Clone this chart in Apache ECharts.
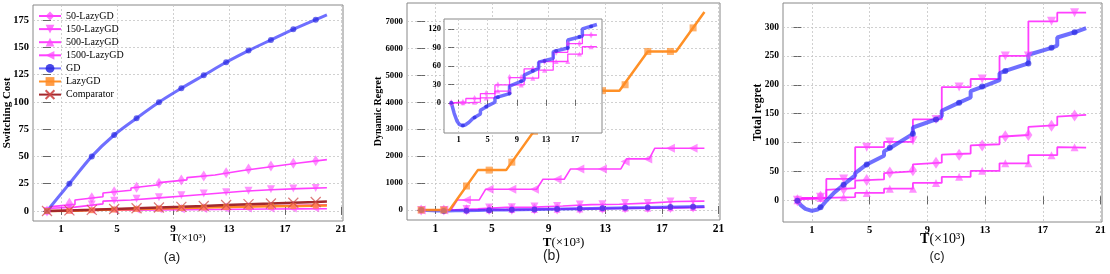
<!DOCTYPE html>
<html><head><meta charset="utf-8">
<script src="https://cdn.jsdelivr.net/npm/echarts@6/dist/echarts.min.js"></script>
<style>html,body{margin:0;padding:0;background:#fff}#c{width:1110px;height:274px}</style>
</head><body><div id="c"></div>
<script>
// ---------- data ----------
const markT = [0,1.6,3.2,4.8,6.4,8.0,9.6,11.2,12.8,14.4,16.0,17.6,19.2];

// (a) switching cost
const aGD_T = [0,0.8,1.6,3.2,4.8,6.4,8.0,9.6,11.2,12.8,14.4,16.0,17.6,19.2,20];
const aGD_V = [0,12.5,25,50,69.6,85,99.6,112.4,124.3,136.2,146.9,156.7,166.4,175.3,179.6];
const aGD_M = [0,25,50,69.6,85,99.6,112.4,124.3,136.2,146.9,156.7,166.4,175.3];
const aStep_T = [0,0.3,2,2,4,4,6,6,8,8,10,10,12,12,14,14,16,16,18,18,20];
const a50_V = [0,4,6,10,13,16.5,19,21,24,26,28.5,30.5,33,34.5,37,38.5,40.5,42,44,45.5,47];
const a50_M = [0,7,12.2,17.7,21.7,25.4,28.4,32.1,35.1,38.5,41.2,43.7,46.1];
const a150_V = [0,2.5,3.5,5,6.5,9,10,11,12,13,14,15,16,17,18,18.5,19.5,20,20.5,21,21.2];
const a150_M = [0,3,5.9,9.4,11.2,12.5,14.3,16.1,17.2,18.6,19.8,20.6,21.1];
const aEven_T = [0,2,4,6,8,10,12,14,16,18,20];
const a500_V = [0,0.8,1.6,2.2,2.8,3.3,3.8,4.3,4.8,5.2,5.6];
const a500_M = [0,0.7,1.3,2,2.6,3.0,3.5,4.1,4.5,4.9,5.0,5.3,5.5];
const a1500_V = [0,0.3,0.6,0.8,1.0,1.2,1.4,1.6,1.8,1.9,2.0];
const a1500_M = [0,0.2,0.5,0.7,0.9,1.0,1.2,1.4,1.6,1.7,1.8,1.9,2.0];
const aLazy_V = [0,0.3,1,1.6,2.2,2.8,3.3,3.8,4.2,4.6,4.9];
const aLazy_M = [0,0.2,0.7,1.3,1.9,2.2,2.7,3.2,3.6,4.0,4.2,4.5,4.8];
const aComp_T = [0,1.6,3.2,4.8,6.4,8,9.6,11.2,12.8,14.4,16,17.6,19.2,20];
const aComp_V = [0,0.5,1.0,1.8,2.5,3.2,3.8,4.5,5.5,6.2,6.8,7.5,8.2,8.6];
const aComp_M = [0,0.5,1.0,1.8,2.5,3.2,3.8,4.5,5.5,6.2,6.8,7.5,8.2];

// (b) dynamic regret
const bLazy_T = [0,2,4,6,10,14,16,18,20];
const bLazy_V = [0,0,1480,1480,4430,4430,5885,5885,7350];
const bLazy_M = [0,0,890,1480,1775,2920,4100,4430,4430,4650,5885,5885,6760];
const b1500_T = [0,2.1,2.55,4.1,4.55,8.15,8.6,10.1,10.55,14.1,14.5,16.1,16.5,20];
const b1500_V = [0,0,372,372,768,768,1140,1140,1524,1524,1896,1896,2292,2292];
const b1500_M = [0,0,372,768,768,768,1140,1524,1524,1800,1896,2292,2292];
const bStep_T = [0,2,2,4,4,6,6,8,8,10,10,12,12,14,14,16,16,18,18,20];
const b150_V = [0,0,40,40,95,95,105,105,145,145,200,200,215,215,255,255,315,315,330,330];
const b150_M = [0,0,40,95,105,125,145,200,215,255,255,315,330];
const bGD_T = [0,0.4,0.8,1.1,1.5,1.9,2.4,3.0,4.0,4.0,5.0,6.0,6.0,8.0,8.0,10,10,12,12,14,14,16,16,18,18,20];
const bGD_V = [0,-17,-30,-35,-37,-36,-32,-25,-18,-12,-5,1,8,15,27,37,45,56,66,72,83,89,102,108,120,127];
const bGD_M = [0,-37,-24,-6,9,15,35,52,68,84,89,107,124];
const b50_T = [0,0.3,1.2,2,2,4,4,6,6,8,8,10,10,12,12,14,14,16,16,18,18,20];
const b50_V = [0,0,1,1,7,7,15,15,29,29,41,41,55,55,67,67,82,82,96,96,110,110];
const b50_M = [0,1,7,15,29,41,41,55,67,82,96,96,110];
const b500_V = [0,0,1,1,8,8,19,19,29,29,40,40,53,53,67,67,79,79,91,91];
const b500_M = [0,0,1,8,19,19,29,40,53,67,67,79,91];

// (c) total regret
const cStep_T = [0,0.3,2,2,4,4,6,6,8,8,10,10,12,12,14,14,16,16,18,18,20];
const c150_V = [0,3,4,37,37,92,92,101,101,140,140,196,196,210,210,250,250,310,310,325,325];
const c150_M = [0,5,37,92,101,103,140,196,210,250,250,310,325];
const c50_V = [0,2,3,18,21,34,36,47,50,62,65,79,81,95,97,110,113,127,130,145,148];
const c50_M = [0,6,20,35,48,52,65,79,95,111,113,129,147];
const c500_T = [0,0.3,2,4,4,6,6,8,8,10,10,12,12,14,14,16,16,18,18,20];
const c500_V = [0,4,4,5.5,12.7,12.7,20,20,30,30,40.5,40.5,51,51,64,64,78,78,92,91];
const c500_M = [0,4,5,12.7,20,20,30,40.5,51,64,64,78,92];
const cGD_T = [0,0.25,0.55,1.0,1.4,1.7,2.0,2.5,3.2,4.0,4.0,4.8,6.0,6.0,6.45,8.0,8.0,9.6,10,10,11.2,12,12,12.85,14,14,14.4,16,16,17.6,18,18,19.2,20];
const cGD_V = [-1,-9,-15,-18.5,-16,-10,-1,12,27,43,47,62,77,85,91,115,126,140,146,155,169,178,189,197,208,220,224,237,252,264,268,282,291,298];
const cGD_M = [-1,-12,27,62,91,115,140,169,197,224,237,264,291];

// tick labels
const xTicks = [1,5,9,13,17,21];
const insetXTicks = [1,5,9,13,17];
const aYTicks = [0,25,50,75,100,125,150,175];
const bYTicks = [0,1000,2000,3000,4000,5000,6000,7000];
const cYTicks = [0,50,100,150,200,250,300];
const insetYTicks = [0,30,60,90,120];
const legendNames = ['50-LazyGD','150-LazyGD','500-LazyGD','1500-LazyGD','GD','LazyGD','Comparator'];

// ---------- styles ----------
const SERIF = '"Liberation Serif","Times New Roman",serif';
const SANS = '"Liberation Sans",Arial,sans-serif';
const DIAMOND = 'path://M5,0L9,9L5,18L1,9Z';
const XPATH = 'path://M0,0L10,10M10,0L0,10';
const MAG_L = 'rgba(255,30,255,0.85)', MAG_M = 'rgba(255,70,255,0.75)';
const ST = {
  '50-LazyGD':  {sym: DIAMOND, rot: 0, lc: MAG_L, mc: MAG_M},
  '150-LazyGD': {sym: 'triangle', rot: 180, lc: MAG_L, mc: MAG_M},
  '500-LazyGD': {sym: 'triangle', rot: 0, lc: MAG_L, mc: MAG_M},
  '1500-LazyGD':{sym: 'triangle', rot: 90, lc: MAG_L, mc: MAG_M},
  'GD':         {sym: 'circle', rot: 0, lc: 'rgba(55,55,255,0.72)', mc: 'rgba(40,40,225,0.85)'},
  'LazyGD':     {sym: 'rect', rot: 0, lc: 'rgba(255,135,20,0.92)', mc: 'rgba(255,140,40,0.85)'},
  'Comparator': {sym: XPATH, rot: 0, lc: '#a3282c', mc: 'rgba(0,0,0,0)', stroke: 'rgba(205,70,70,0.9)'}
};

const series = [];
function addPair(name, gi, T, V, M, lw, ms, z, smooth) {
  const s = ST[name];
  const iStyle = s.stroke ? {color: s.mc, borderColor: s.stroke, borderWidth: 1.2} : {color: s.mc};
  series.push({
    type: 'line', name, xAxisIndex: 2*gi, yAxisIndex: 2*gi,
    data: T.map((t, i) => [t, V[i]]),
    showSymbol: false, symbol: s.sym, symbolRotate: s.rot,
    smooth: smooth || false,
    lineStyle: {color: s.lc, width: lw}, itemStyle: iStyle,
    z: z, animation: false, silent: true
  });
  series.push({
    type: 'scatter', name, xAxisIndex: 2*gi, yAxisIndex: 2*gi,
    data: markT.map((t, i) => [t, M[i]]),
    symbol: s.sym, symbolRotate: s.rot, symbolSize: ms,
    itemStyle: iStyle, z: z + 1, animation: false, silent: true
  });
}

// (a)
addPair('50-LazyGD', 0, aStep_T, a50_V, a50_M, 1.6, [7,11], 3);
addPair('150-LazyGD', 0, aStep_T, a150_V, a150_M, 1.6, 8, 3);
addPair('500-LazyGD', 0, aEven_T, a500_V, a500_M, 1.6, 7, 3);
addPair('1500-LazyGD', 0, aEven_T, a1500_V, a1500_M, 1.6, 7, 3);
addPair('GD', 0, aGD_T, aGD_V, aGD_M, 3, 6, 3, 0.3);
addPair('LazyGD', 0, aEven_T, aLazy_V, aLazy_M, 2.5, 6, 3);
addPair('Comparator', 0, aComp_T, aComp_V, aComp_M, 2.5, 10, 4);
// (b) main
addPair('1500-LazyGD', 1, b1500_T, b1500_V, b1500_M, 1.6, 9, 2);
addPair('150-LazyGD', 1, bStep_T, b150_V, b150_M, 1.6, 8, 2);
addPair('500-LazyGD', 1, bStep_T, b500_V, b500_M, 1.6, 7, 2);
addPair('50-LazyGD', 1, b50_T, b50_V, b50_M, 1.6, [7,11], 2);
addPair('GD', 1, bGD_T, bGD_V, bGD_M, 3, 6, 2);
addPair('LazyGD', 1, bLazy_T, bLazy_V, bLazy_M, 2.5, 7, 3);
// (b) inset
addPair('50-LazyGD', 3, b50_T, b50_V, b50_M, 1.3, [4,7], 8);
addPair('500-LazyGD', 3, bStep_T, b500_V, b500_M, 1.3, 5, 8);
addPair('GD', 3, bGD_T, bGD_V, bGD_M, 3.5, 4, 9);
// (c)
addPair('150-LazyGD', 2, cStep_T, c150_V, c150_M, 1.8, 9, 3);
addPair('50-LazyGD', 2, cStep_T, c50_V, c50_M, 1.8, [8,12], 3);
addPair('500-LazyGD', 2, c500_T, c500_V, c500_M, 1.8, 8, 3);
addPair('GD', 2, cGD_T, cGD_V, cGD_M, 4, 6, 4);

// ---------- axes ----------
const xAxes = [], yAxes = [];
const fmt = v => String(v);
function axesFor(gi, xr, yr, xt, yt, o) {
  const tick = (vals) => ({show: true, inside: true, length: o.tl, customValues: vals, lineStyle: {color: '#666', width: 1}});
  const split = {show: o.split, lineStyle: {color: '#c4c4c4', type: [2,2], width: 0.8}};
  xAxes.push({type: 'value', gridIndex: gi, position: 'bottom', min: xr[0], max: xr[1], z: o.z,
    axisLine: {show: false}, axisTick: tick(xt),
    axisLabel: {customValues: xt, formatter: fmt, fontFamily: SERIF, fontWeight: 'bold', fontSize: o.xl, color: '#000', margin: o.xm},
    splitLine: split,
    name: o.xName ? '{b|T}{r|(×10³)}' : '', nameLocation: 'middle', nameGap: o.xNameGap, nameMoveOverlap: false,
    nameTextStyle: {fontSize: o.xn, rich: {b: {fontFamily: SERIF, fontWeight: 'bold', fontSize: o.xn, color: '#000'},
                           r: {fontFamily: SERIF, fontSize: o.xn, color: '#000'}}}});
  xAxes.push({type: 'value', gridIndex: gi, position: 'top', min: xr[0], max: xr[1], z: o.z,
    axisLine: {show: false}, axisTick: tick(xt), axisLabel: {show: false}, splitLine: {show: false}});
  yAxes.push({type: 'value', gridIndex: gi, position: 'left', min: yr[0], max: yr[1], z: o.z,
    axisLine: {show: false}, axisTick: tick(yt),
    axisLabel: {customValues: yt, formatter: fmt, fontFamily: SERIF, fontWeight: 'bold', fontSize: o.yl, color: '#000', margin: o.ym},
    splitLine: split,
    name: o.yName || '', nameLocation: 'middle', nameGap: o.yNameGap, nameMoveOverlap: false,
    nameTextStyle: {fontFamily: SERIF, fontWeight: 'bold', fontSize: o.yn, color: '#000'}});
  yAxes.push({type: 'value', gridIndex: gi, position: 'right', min: yr[0], max: yr[1], z: o.z,
    axisLine: {show: false}, axisTick: tick(yt), axisLabel: {show: false}, splitLine: {show: false}});
}
axesFor(0, [-1, 21.15], [-9.2, 188.7], xTicks, aYTicks,
  {tl: 4, split: true, xl: 11, yl: 10.5, xm: 3, ym: 4, xName: true, xNameGap: 12, xn: 11, yName: 'Switching Cost', yNameGap: 20, yn: 11, z: 0});
axesFor(1, [-1, 21.1], [-372, 7684], xTicks, bYTicks,
  {tl: 4, split: true, xl: 11.5, yl: 8.8, xm: 3, ym: 4, xName: true, xNameGap: 16, xn: 13, yName: 'Dynamic Regret', yNameGap: 24, yn: 10, z: 0});
axesFor(2, [-1, 21.1], [-37.7, 341.7], xTicks, cYTicks,
  {tl: 4, split: true, xl: 10.5, yl: 9.5, xm: 3, ym: 4, xName: true, xNameGap: 10, xn: 14, yName: 'Total regret', yNameGap: 19, yn: 11.5, z: 0});
axesFor(3, [-1, 20.7], [-49, 136], insetXTicks, insetYTicks,
  {tl: 3, split: true, xl: 8.5, yl: 8.5, xm: 2, ym: 3, xName: false, xNameGap: 0, xn: 8, yName: '', yNameGap: 0, yn: 8, z: 6});

const grids = [
  {left: 33, top: 5, width: 310, height: 216, show: true, borderColor: '#888', borderWidth: 1, backgroundColor: 'transparent', z: 0},
  {left: 407, top: 3, width: 313, height: 217, show: true, borderColor: '#888', borderWidth: 1, backgroundColor: 'transparent', z: 0},
  {left: 783, top: 3, width: 319, height: 219, show: true, borderColor: '#888', borderWidth: 1, backgroundColor: 'transparent', z: 0},
  {left: 444, top: 19, width: 158, height: 114, show: true, borderColor: '#888', borderWidth: 1, backgroundColor: '#fff', z: 5}
];

const chart = echarts.init(document.getElementById('c'), null, {renderer: 'canvas'});
chart.setOption({
  animation: false,
  backgroundColor: '#fff',
  grid: grids,
  xAxis: xAxes,
  yAxis: yAxes,
  legend: {show: true, orient: 'vertical', left: 38, top: 10, padding: 0, itemGap: 1.1,
    itemWidth: 22, itemHeight: 11, selectedMode: false, data: legendNames,
    textStyle: {fontFamily: SERIF, fontSize: 10, color: '#000', lineHeight: 12}},
  graphic: [
    {type: 'text', x: 172, y: 257, style: {text: '(a)', font: '13.5px ' + SANS, fill: '#222', align: 'center', verticalAlign: 'middle'}},
    {type: 'text', x: 551.5, y: 256, style: {text: '(b)', font: '14px ' + SANS, fill: '#222', align: 'center', verticalAlign: 'middle'}},
    {type: 'text', x: 937, y: 256.5, style: {text: '(c)', font: '13px ' + SANS, fill: '#222', align: 'center', verticalAlign: 'middle'}}
  ],
  series: series
});
</script></body></html>
